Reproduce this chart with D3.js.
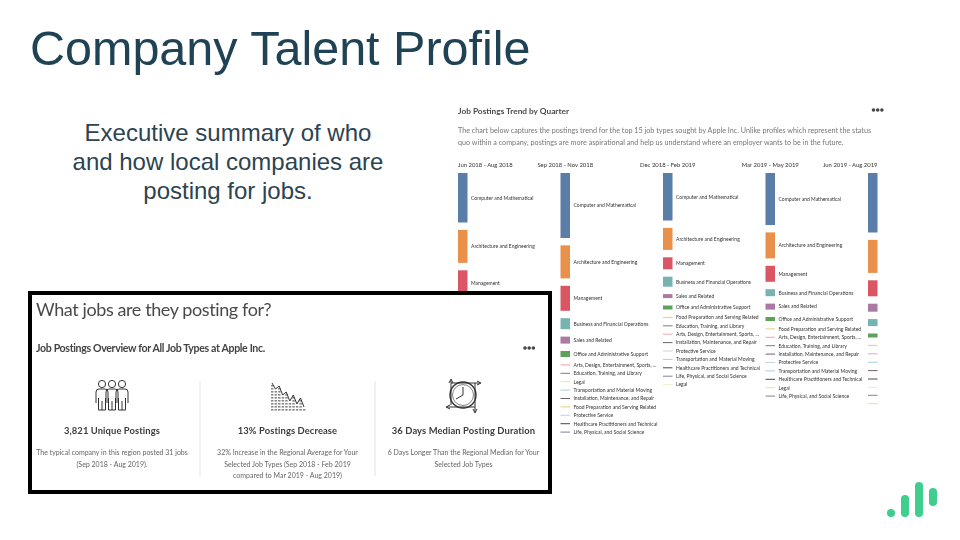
<!DOCTYPE html>
<html><head><meta charset="utf-8">
<script src="https://cdn.jsdelivr.net/npm/d3@7"></script>
<style>html,body{margin:0;background:#fff}svg{display:block}text{font-family:Lato,sans-serif}</style>
</head><body><svg id="c" width="960" height="540"></svg>
<script>
const quarters = ["Jun 2018 - Aug 2018","Sep 2018 - Nov 2018","Dec 2018 - Feb 2019","Mar 2019 - May 2019","Jun 2019 - Aug 2019"];
const CM="Computer and Mathematical",AE="Architecture and Engineering",MG="Management",BF="Business and Financial Operations",SR="Sales and Related",OA="Office and Administrative Support",FP="Food Preparation and Serving Related",ED="Education, Training, and Library",AD="Arts, Design, Entertainment, Sports, ...",IM="Installation, Maintenance, and Repair",PS="Protective Service",TM="Transportation and Material Moving",HC="Healthcare Practitioners and Technical",LP="Life, Physical, and Social Science",LG="Legal";
const jobs1 = [CM,AE,MG];
const values1 = [297,198,150];
const jobs2 = [CM,AE,MG,BF,SR,OA,AD,ED,LG,TM,IM,FP,PS,HC,LP];
const values2 = [390,198,150,66,42,36,6,6,6,6,6,6,6,6,6];
const jobs3 = [CM,AE,MG,BF,SR,OA,FP,ED,AD,IM,PS,TM,HC,LP,LG];
const values3 = [285,132,72,60,24,24,6,6,6,6,6,6,6,6,3];
const jobs4 = [CM,AE,MG,BF,SR,OA,FP,AD,ED,IM,PS,TM,HC,LG,LP];
const values4 = [312,156,96,42,36,24,6,6,6,6,6,6,6,6,6];
const jobs5 = [CM,AE,MG,SR,BF,OA,FP,AD,TM,IM,HC,PS,LP,LG];
const values5 = [357,198,96,48,42,24,6,6,6,6,6,3,6,6];
const jobColors = {[CM]:"#5a7ea8",[AE]:"#e9914c",[MG]:"#da5765",[BF]:"#76b3b1",[SR]:"#ab7aa3",[OA]:"#5fa15a",[FP]:"#e6cf7a",[ED]:"#8c7a68",[AD]:"#f2a3ad",[IM]:"#6f6468",[PS]:"#c9d3da",[TM]:"#a9cfd9",[HC]:"#4b4b4b",[LP]:"#85809c",[LG]:"#e3e79a"};
const summary = ["Executive summary of who","and how local companies are","posting for jobs."];
const kpis = [
 {head:"3,821 Unique Postings",lines:["The typical company in this region posted 31 jobs","(Sep 2018 - Aug 2019)."]},
 {head:"13% Postings Decrease",lines:["32% Increase in the Regional Average for Your","Selected Job Types (Sep 2018 - Feb 2019","compared to Mar 2019 - Aug 2019)"]},
 {head:"36 Days Median Posting Duration",lines:["6 Days Longer Than the Regional Median for Your","Selected Job Types"]}];
const stockShape = [9,7,8,5,6,3,5,2,4,1];

const svg=d3.select("#c");
const defs=svg.append("defs");
defs.append("filter").attr("id","soft").attr("x","-2%").attr("y","-2%").attr("width","104%").attr("height","104%")
 .append("feGaussianBlur").attr("stdDeviation",0.4);

// slide title
svg.append("text").attr("x",30).attr("y",65).attr("font-size",48.5).attr("fill","#1f4355").style("font-family","'Liberation Sans',Arial,sans-serif").text("Company Talent Profile");
svg.append("g").selectAll("text").data(summary).join("text").attr("x",228).attr("y",(d,i)=>141+i*29).attr("text-anchor","middle").attr("font-size",24).attr("fill","#2d4350").style("font-family","'Liberation Sans',Arial,sans-serif").text(d=>d);

// right panel
const right=svg.append("g").attr("filter","url(#soft)");
right.append("text").attr("x",458).attr("y",114).attr("font-size",8.3).attr("font-weight",700).attr("fill","#4a4a4a").text("Job Postings Trend by Quarter");
const dots=(g,x0,y)=>g.append("g").selectAll("circle").data([0,1,2]).join("circle").attr("cx",d=>x0+d*4.2).attr("cy",y).attr("r",1.8).attr("fill","#444");
dots(right,873.5,110);
right.append("text").attr("x",458).attr("y",133).attr("font-size",7.2).attr("fill","#777").text("The chart below captures the postings trend for the top 15 job types sought by Apple Inc. Unlike profiles which represent the status");
right.append("text").attr("x",458).attr("y",145).attr("font-size",7.2).attr("fill","#777").text("quo within a company, postings are more aspirational and help us understand where an employer wants to be in the future.");

const x=d3.scalePoint().domain(quarters).range([458,868]);
const h=d3.scaleLinear().domain([0,600]).range([0,100]);
const barW=9.5,gap=7.4,topY=173;
const cols=[[jobs1,values1],[jobs2,values2],[jobs3,values3],[jobs4,values4],[jobs5,values5]];
cols.forEach(([jobs,vals],ci)=>{
 const q=quarters[ci];
 const anchor=ci===0?"start":ci===4?"end":"middle";
 const hx=ci===0?x(q):ci===4?x(q)+barW:x(q)+barW/2;
 right.append("text").attr("x",hx).attr("y",167).attr("text-anchor",anchor).attr("font-size",5.9).attr("fill","#333").text(q);
 let y0=topY;
 const segs=vals.map((v,i)=>{const s={job:jobs[i],y:y0,h:h(v)};y0+=s.h+gap;return s;});
 const g=right.append("g");
 g.selectAll("rect").data(segs).join("rect").attr("x",x(q)).attr("y",d=>d.y).attr("width",barW).attr("height",d=>d.h).attr("fill",d=>jobColors[d.job]);
 if(ci<4) g.selectAll("text").data(segs).join("text").attr("x",x(q)+barW+3.5).attr("y",d=>d.y+d.h/2+1.8).attr("font-size",5).attr("fill","#333").text(d=>d.job);
});

// boxed overview panel
const box=svg.append("g");
box.append("rect").attr("x",30).attr("y",293).attr("width",520).attr("height",199).attr("fill","#fff").attr("stroke","#000").attr("stroke-width",4);
const inner=box.append("g").attr("filter","url(#soft)");
inner.append("text").attr("x",36).attr("y",316).attr("font-size",18).attr("letter-spacing",-0.4).attr("fill","#4a4a4a").text("What jobs are they posting for?");
inner.append("text").attr("x",36).attr("y",352).attr("font-size",10.6).attr("font-weight",700).attr("letter-spacing",-0.35).attr("fill","#444").text("Job Postings Overview for All Job Types at Apple Inc.");
dots(inner,525,348);
const cx=d3.scaleOrdinal().domain(kpis.map(d=>d.head)).range([112,287.5,463.5]);
inner.selectAll("line.div").data([200,375]).join("line").attr("class","div").attr("x1",d=>d).attr("x2",d=>d).attr("y1",381).attr("y2",476).attr("stroke","#e3e3e3").attr("stroke-width",1);
const kg=inner.selectAll("g.k").data(kpis).join("g").attr("class","k");
kg.append("text").attr("x",d=>cx(d.head)).attr("y",434).attr("text-anchor","middle").attr("font-size",9.4).attr("font-weight",700).attr("letter-spacing",0.1).attr("fill","#3c3c3c").text(d=>d.head);
kg.each(function(d){d3.select(this).selectAll("text.l").data(d.lines).join("text").attr("class","l").attr("x",cx(d.head)).attr("y",(t,i)=>455+i*11.6).attr("text-anchor","middle").attr("font-size",7).attr("fill","#666").text(t=>t);});

// icon: three people
const people=inner.append("g").attr("fill","none").attr("stroke","#333").attr("stroke-width",1);
[-10,0,10].forEach(o=>{
 const c=112+o;
 people.append("circle").attr("cx",c).attr("cy",384).attr("r",3.6);
 people.append("path").attr("d",`M${c-3.5} 410V398M${c+3.5} 410V398M${c-6} 403V392q0-3 3-3h6q3 0 3 3v11M${c-3.5} 410H${c+3.5}M${c} 410V401`);
});
// icon: falling chart
const chartG=inner.append("g");
const ix=d3.scaleLinear().domain([0,stockShape.length-1]).range([272,304]);
const iy=d3.scaleLinear().domain([0,10]).range([410,380]);
stockShape.forEach((n,c)=>{for(let r=0;r<n;r++){
 chartG.append("rect").attr("x",ix(c)-1).attr("y",409-r*3).attr("width",2.4).attr("height",1.6).attr("fill","#888");}});
chartG.append("path").datum(stockShape).attr("fill","none").attr("stroke","#333").attr("stroke-width",1).attr("d",d3.line().x((d,i)=>ix(i)).y(d=>iy(d)));
// icon: clock with arrows
const clock=inner.append("g").attr("fill","none").attr("stroke","#333");
clock.append("circle").attr("cx",463).attr("cy",395).attr("r",13).attr("stroke-width",1.4);
clock.append("circle").attr("cx",463).attr("cy",395).attr("r",10.5).attr("stroke-width",.6);
clock.append("path").attr("stroke-width",1).attr("d","M463 395V387M463 395L456 399M451 383H480M477 381L481 383L477 385M451 380V405M449 383L451 379L453 383M475 407H447M450 405L446 407L450 409M475 383V412M473 409L475 413L477 409");
// logo
const logoBars=[[891,509,517],[905,495,517],[919,482,517],[933,488,506]];
svg.append("g").selectAll("rect").data(logoBars).join("rect").attr("x",d=>d[0]-4).attr("y",d=>d[1]).attr("width",8).attr("height",d=>d[2]-d[1]).attr("rx",4).attr("fill","#3fce8d");
</script></body></html>
